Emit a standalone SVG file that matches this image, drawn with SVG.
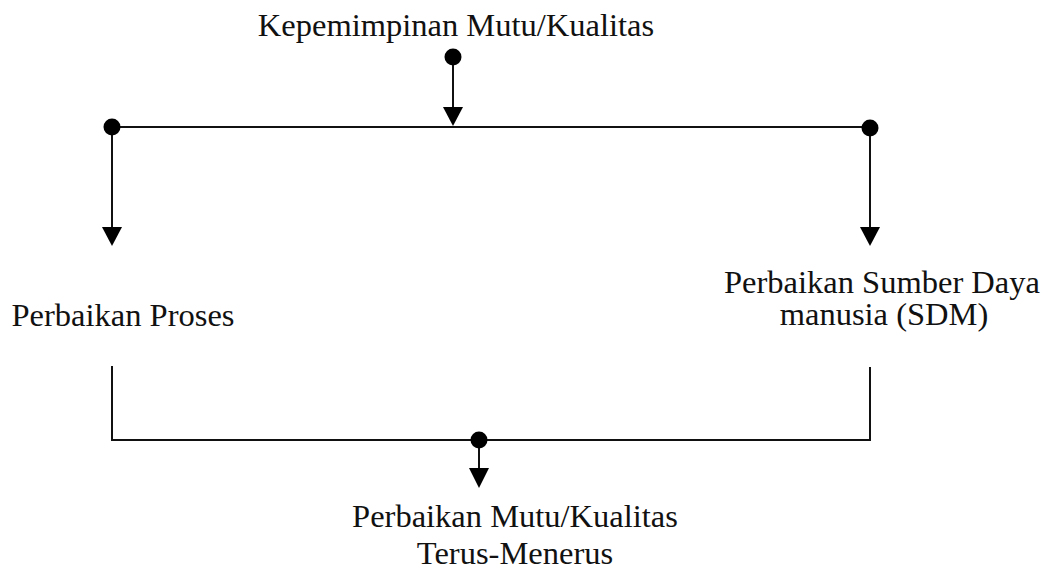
<svg xmlns="http://www.w3.org/2000/svg" width="1047" height="570" viewBox="0 0 1047 570">
  <style>
    .label { font-family: "Liberation Serif", "Times New Roman", serif; font-size: 32.5px; fill: #111; text-anchor: middle; }
    .wire { stroke: #111; stroke-width: 2; fill: none; }
    .dot { fill: #000; }
    .head { fill: #000; }
  </style>
  <rect width="1047" height="570" fill="#fff"/>

  <g id="connectors">
    <!-- leadership drop onto the main bus -->
    <line class="wire" x1="453" y1="57" x2="453" y2="110"/>
    <polygon class="head" points="443,107 463,107 453,126"/>
    <!-- main bus -->
    <line class="wire" x1="112" y1="127" x2="870" y2="127"/>
    <!-- branch to process improvement -->
    <line class="wire" x1="112" y1="127" x2="112" y2="230"/>
    <polygon class="head" points="102,227 122,227 112,246"/>
    <!-- branch to human resources improvement -->
    <line class="wire" x1="870" y1="127" x2="870" y2="230"/>
    <polygon class="head" points="860,227 880,227 870,246"/>
    <!-- lower collecting bracket -->
    <polyline class="wire" points="112,366 112,440 870,440 870,367"/>
    <!-- drop to continuous improvement -->
    <line class="wire" x1="479" y1="440" x2="479" y2="470"/>
    <polygon class="head" points="469,468 489,468 479,488"/>
    <!-- junction dots -->
    <circle class="dot" cx="453" cy="57" r="8.5"/>
    <circle class="dot" cx="112" cy="127" r="8.5"/>
    <circle class="dot" cx="870" cy="128" r="8.5"/>
    <circle class="dot" cx="479" cy="440" r="8.5"/>
  </g>

  <g id="node-kepemimpinan">
    <text class="label" x="456" y="36">Kepemimpinan Mutu/Kualitas</text>
  </g>

  <g id="node-proses">
    <text class="label" x="123" y="326">Perbaikan Proses</text>
  </g>

  <g id="node-sdm">
    <text class="label" x="882" y="293">Perbaikan Sumber Daya</text>
    <text class="label" x="884" y="325">manusia (SDM)</text>
  </g>

  <g id="node-perbaikan-mutu">
    <text class="label" x="515" y="527">Perbaikan Mutu/Kualitas</text>
    <text class="label" x="515" y="564">Terus-Menerus</text>
  </g>
</svg>
